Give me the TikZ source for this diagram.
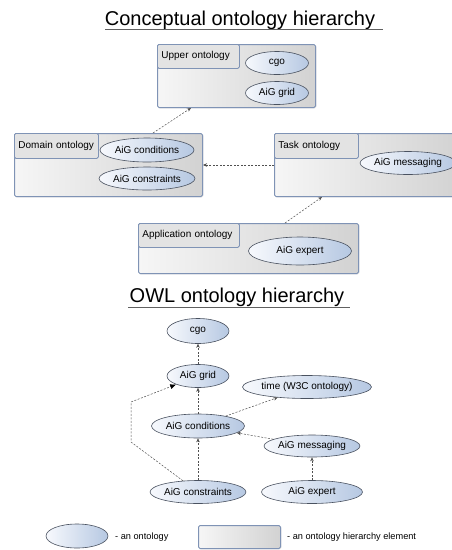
\documentclass[tikz,border=0pt]{standalone}
\usepackage{fontspec}
\setmainfont{Liberation Sans}
\usetikzlibrary{arrows.meta,shapes.geometric,shadows}
\definecolor{boxborder}{HTML}{7F93B5}
\definecolor{boxlight}{HTML}{F6F6F6}
\definecolor{boxdark}{HTML}{D2D2D2}
\definecolor{tabfill}{HTML}{E3E3E3}
\definecolor{ellborder}{HTML}{4A5260}
\definecolor{elllight}{HTML}{F7F9FD}
\definecolor{elldark}{HTML}{B6C8E2}
\definecolor{arrowcol}{HTML}{505050}
\definecolor{ulinecol}{HTML}{606060}
\begin{document}
\begin{tikzpicture}[x=1pt,y=-1pt,
  hbox/.style={draw=boxborder, line width=1pt, rounded corners=1.5pt,
    left color=boxlight, right color=boxdark, anchor=north west, inner sep=0pt,
    drop shadow={opacity=0.25, shadow xshift=0.8pt, shadow yshift=-0.8pt}},
  tabbox/.style={draw=boxborder, line width=0.8pt, rounded corners=1.5pt, fill=tabfill,
    anchor=north west, inner xsep=4pt, inner ysep=0pt, align=left,
    font=\fontsize{10}{12}\selectfont},
  onto/.style={ellipse, draw=ellborder, line width=0.6pt, left color=elllight,
    right color=elldark, inner sep=0pt, font=\fontsize{10}{12}\selectfont},
  dep/.style={draw=arrowcol, line width=0.5pt, dash pattern=on 2pt off 1.5pt,
    -{Stealth[length=4pt,width=3.5pt]}},
  depbig/.style={draw=arrowcol, line width=0.5pt, dash pattern=on 2pt off 1.5pt,
    -{Latex[length=6pt,width=5pt,black]}},
  titletext/.style={font=\fontsize{20}{24}\selectfont, anchor=base, inner sep=0pt},
  legtext/.style={font=\fontsize{9.2}{11}\selectfont, anchor=west, inner sep=0pt},
]
\fill[white] (0,0) rectangle (452,550);
\useasboundingbox (0,0) rectangle (452,550);

% ---------- Conceptual ontology hierarchy ----------
\node[titletext] (t1) at (240,25.5) {Conceptual ontology hierarchy};
\draw[ulinecol, line width=0.8pt] (105,29) -- (383,29);

% Upper ontology
\node[hbox, minimum width=158pt, minimum height=63pt] (upper) at (157,44) {};
\node[tabbox, text width=74pt, minimum height=24pt] (uppertab) at (157,44) {Upper ontology};
\node[onto, minimum width=63pt, minimum height=23pt] (ucgo) at (277,63) {cgo};
\node[onto, minimum width=63pt, minimum height=23pt] (ugrid) at (277,93) {AiG grid};

% Domain ontology
\node[hbox, minimum width=188pt, minimum height=63pt] (domain) at (14,133) {};
\node[tabbox, text width=76pt, minimum height=25pt] (domaintab) at (14,133) {Domain ontology};
\node[onto, minimum width=94pt, minimum height=24pt] (dcond) at (147,150) {AiG conditions};
\node[onto, minimum width=94pt, minimum height=23pt] (dcons) at (147,178.5) {AiG constraints};

% Task ontology
\node[hbox, minimum width=186pt, minimum height=63pt] (task) at (274,133) {};
\node[tabbox, text width=76pt, minimum height=25pt] (tasktab) at (274,133) {Task ontology};
\node[onto, minimum width=91pt, minimum height=23pt] (tmsg) at (408,163) {AiG messaging};

% Application ontology
\node[hbox, minimum width=220pt, minimum height=50pt] (app) at (138,223) {};
\node[tabbox, text width=93pt, minimum height=24pt] (apptab) at (138,223) {Application ontology};
\node[onto, minimum width=103pt, minimum height=28pt] (aexp) at (300,251) {AiG expert};

% connectors
\draw[dep] ([xshift=139pt]domain.north west) -- ([xshift=34pt]upper.south west);
\draw[dep] (task.west) -- (domain.east);
\draw[dep] ([xshift=147pt]app.north west) -- ([xshift=48pt]task.south west);

% ---------- OWL ontology hierarchy ----------
\node[titletext] (t2) at (237,302.5) {OWL ontology hierarchy};
\draw[ulinecol, line width=0.8pt] (128,307) -- (350,307);

\node[onto, minimum width=62pt, minimum height=25pt] (ocgo) at (198,331) {cgo};
\node[onto, minimum width=62pt, minimum height=23pt] (ogrid) at (198,376) {AiG grid};
\node[onto, minimum width=113pt, minimum height=23pt] (otime) at (307,387) {time (W3C ontology)};
\node[onto, minimum width=93pt, minimum height=24pt] (ocond) at (198,426) {AiG conditions};
\node[onto, minimum width=91pt, minimum height=22pt] (omsg) at (312,446) {AiG messaging};
\node[onto, minimum width=93pt, minimum height=23pt] (ocons) at (198,492) {AiG constraints};
\node[onto, minimum width=101pt, minimum height=23pt] (oexp) at (312,492) {AiG expert};

\coordinate (c1) at (131,442);
\coordinate (c2) at (131,402);

\draw[dep] (ogrid) -- (ocgo);
\draw[dep] (ocond) -- (ogrid);
\draw[dep] (ocond) -- (otime);
\draw[dep] (omsg) -- (ocond);
\draw[dep] (ocons) -- (ocond);
\draw[dep] (oexp) -- (omsg);
\draw[depbig] (ocons) -- (c1) -- (c2) -- (ogrid);

% ---------- legend ----------
\node[onto, minimum width=62pt, minimum height=24pt] (legell) at (77,536) {};
\node[legtext] (legelltxt) at (115,537) {- an ontology};
\node[hbox, minimum width=82pt, minimum height=23pt] (legbox) at (198,525) {};
\node[legtext] (legboxtxt) at (287,537) {- an ontology hierarchy element};
\end{tikzpicture}
\end{document}
